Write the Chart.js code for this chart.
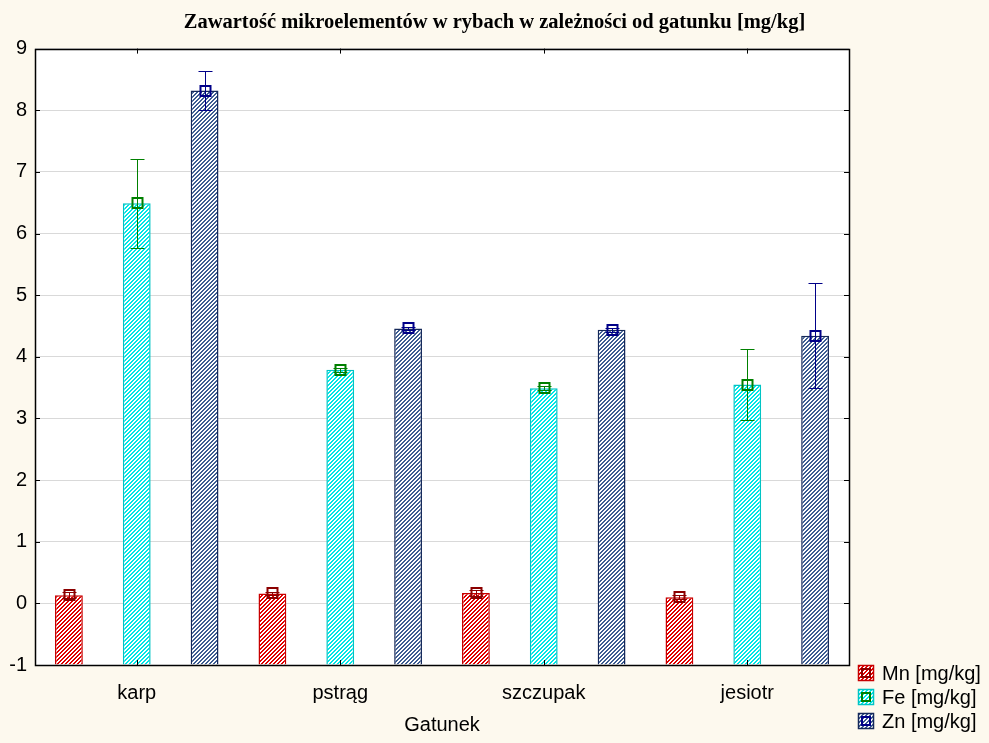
<!DOCTYPE html>
<html>
<head>
<meta charset="utf-8">
<script src="https://cdn.jsdelivr.net/npm/chart.js@4.4.0/dist/chart.umd.min.js"></script>
<style>
  html, body { margin: 0; padding: 0; background: #fdf9ee; }
  #wrap { width: 989px; height: 743px; }
</style>
</head>
<body>
<div id="wrap"><canvas id="chart" width="989" height="743"></canvas></div>
<script>
// dane
const categories = ['karp', 'pstrąg', 'szczupak', 'jesiotr'];
const seriesLabels = ['Mn [mg/kg]', 'Fe [mg/kg]', 'Zn [mg/kg]'];
const mnValues = [0.13, 0.16, 0.17, 0.10];
const mnErrors = [0.05, 0.03, 0.05, 0.03];
const feValues = [6.49, 3.79, 3.49, 3.55];
const feErrors = [0.72, 0.03, 0.03, 0.57];
const znValues = [8.32, 4.46, 4.44, 4.34];
const znErrors = [0.31, 0.03, 0.03, 0.85];
const yMin = -1, yMax = 9, yStep = 1;

const bgColor = '#fdf9ee';
const fontSans = '"Liberation Sans", Arial, sans-serif';

// kolory: paski, ramka, marker
const styles = [
  { stripe: '#e00000', border: '#c80000', marker: '#8b0000' },
  { stripe: '#00e6e6', border: '#00c4c4', marker: '#008000' },
  { stripe: '#3d5d92', border: '#15295a', marker: '#000088' }
];

function makeHatch(color) {
  const c = document.createElement('canvas');
  c.width = 4; c.height = 4;
  const g = c.getContext('2d');
  g.fillStyle = '#ffffff';
  g.fillRect(0, 0, 4, 4);
  g.fillStyle = color;
  for (let x = 0; x < 4; x++) {
    for (let y = 0; y < 4; y++) {
      if ((x + y) % 4 < 2) g.fillRect(x, y, 1, 1);
    }
  }
  return g.createPattern(c, 'repeat');
}

const allValues = [mnValues, feValues, znValues];
const allErrors = [mnErrors, feErrors, znErrors];

const datasets = allValues.map((vals, i) => ({
  label: seriesLabels[i],
  data: vals,
  errors: allErrors[i],
  base: yMin,
  backgroundColor: makeHatch(styles[i].stripe),
  borderColor: styles[i].border,
  borderWidth: 1.5,
  markerColor: styles[i].marker,
  barPercentage: 0.41,
  categoryPercentage: 1.0
}));

// tło wykresu i obszaru danych
const backgroundPlugin = {
  id: 'background',
  beforeDraw(chart) {
    const { ctx, chartArea: a } = chart;
    ctx.save();
    ctx.fillStyle = bgColor;
    ctx.fillRect(0, 0, chart.width, chart.height);
    ctx.fillStyle = '#ffffff';
    ctx.fillRect(a.left, a.top, a.right - a.left, a.bottom - a.top);
    ctx.restore();
  }
};

// słupki błędów + kwadratowe markery
const errorBarPlugin = {
  id: 'errorBars',
  afterDatasetsDraw(chart) {
    const { ctx } = chart;
    const y = chart.scales.y;
    chart.data.datasets.forEach((ds, i) => {
      const meta = chart.getDatasetMeta(i);
      meta.data.forEach((bar, j) => {
        const v = ds.data[j];
        const e = ds.errors[j];
        const x = Math.round(bar.x) + 0.5;
        const yTop = Math.round(y.getPixelForValue(v + e)) + 0.5;
        const yBot = Math.round(y.getPixelForValue(v - e)) + 0.5;
        const yMid = Math.round(y.getPixelForValue(v));
        ctx.save();
        ctx.strokeStyle = ds.markerColor;
        ctx.lineWidth = 1;
        ctx.beginPath();
        ctx.moveTo(x, yTop); ctx.lineTo(x, yBot);
        ctx.moveTo(x - 7, yTop); ctx.lineTo(x + 7, yTop);
        ctx.moveTo(x - 7, yBot); ctx.lineTo(x + 7, yBot);
        ctx.stroke();
        ctx.lineWidth = 2;
        ctx.strokeRect(x - 5, yMid - 5, 10, 10);
        ctx.restore();
      });
    });
  }
};

// ramka, znaczniki osi i legenda
const framePlugin = {
  id: 'frame',
  afterDraw(chart) {
    const { ctx, chartArea: a } = chart;
    const xs = chart.scales.x, ys = chart.scales.y;
    ctx.save();
    ctx.strokeStyle = '#000000';
    ctx.lineWidth = 1;
    ctx.beginPath();
    ys.ticks.forEach(t => {
      const py = Math.round(ys.getPixelForValue(t.value)) + 0.5;
      ctx.moveTo(a.left, py); ctx.lineTo(a.left + 5, py);
      ctx.moveTo(a.right - 5, py); ctx.lineTo(a.right, py);
    });
    categories.forEach((c, i) => {
      const px = Math.round(xs.getPixelForValue(i)) + 0.5;
      ctx.moveTo(px, a.bottom); ctx.lineTo(px, a.bottom - 5);
      ctx.moveTo(px, a.top); ctx.lineTo(px, a.top + 5);
    });
    ctx.stroke();
    ctx.lineWidth = 1.5;
    ctx.strokeRect(Math.round(a.left) + 0.5, Math.round(a.top) + 0.5,
      Math.round(a.right - a.left), Math.round(a.bottom - a.top));

    // legenda
    ctx.font = '20px ' + fontSans;
    ctx.textBaseline = 'middle';
    chart.data.datasets.forEach((ds, i) => {
      const lx = 858, ly = 673 + i * 24;
      ctx.fillStyle = ds.backgroundColor;
      ctx.fillRect(lx, ly - 8, 16, 16);
      ctx.strokeStyle = ds.borderColor;
      ctx.lineWidth = 1.5;
      ctx.strokeRect(lx + 0.5, ly - 7.5, 15, 15);
      ctx.strokeStyle = ds.markerColor;
      ctx.lineWidth = 2;
      ctx.strokeRect(lx + 4, ly - 4, 8, 8);
      ctx.fillStyle = '#000000';
      ctx.fillText(ds.label, 882, ly + 1);
    });
    ctx.restore();
  }
};

new Chart(document.getElementById('chart'), {
  type: 'bar',
  data: { labels: categories, datasets: datasets },
  plugins: [backgroundPlugin, errorBarPlugin, framePlugin],
  options: {
    responsive: false,
    animation: false,
    layout: { padding: 0 },
    plugins: {
      legend: { display: false },
      tooltip: { enabled: false },
      title: {
        display: true,
        text: 'Zawartość mikroelementów w rybach w zależności od gatunku [mg/kg]',
        color: '#000000',
        font: { family: '"Liberation Serif", "Times New Roman", serif', size: 20.5, weight: 'bold' },
        padding: { top: 10, bottom: 14 }
      }
    },
    scales: {
      x: {
        offset: true,
        grid: { display: false },
        border: { display: false },
        ticks: { color: '#000000', font: { family: fontSans, size: 20 }, padding: 8 },
        title: { display: true, text: 'Gatunek', color: '#000000', font: { family: fontSans, size: 20 }, padding: { top: 4, bottom: 6 } },
        afterFit(scale) { scale.height = 78; }
      },
      y: {
        min: yMin,
        max: yMax,
        grid: { color: '#d9d9d9', lineWidth: 1, drawTicks: false },
        border: { display: false },
        ticks: { stepSize: yStep, color: '#000000', font: { family: fontSans, size: 20 }, padding: 8 },
        afterFit(scale) { scale.width = 35; }
      },
      // pusta oś po prawej – miejsce na legendę
      yRight: {
        position: 'right',
        min: yMin,
        max: yMax,
        grid: { drawOnChartArea: false, drawTicks: false },
        border: { display: false },
        ticks: { display: false },
        afterFit(scale) { scale.width = 140; }
      }
    }
  }
});
</script>
</body>
</html>
